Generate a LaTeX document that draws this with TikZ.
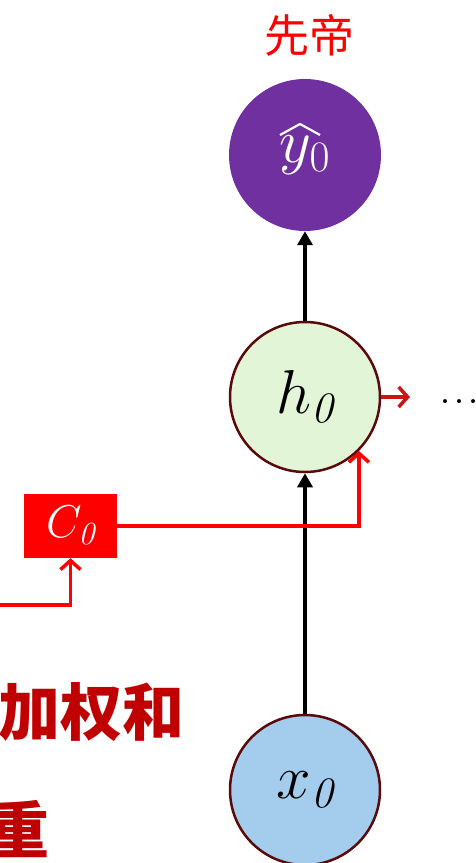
\RequirePackage{fix-cm}
\documentclass[tikz,border=0pt]{standalone}
\usepackage{fontspec}
\newfontfamily\cjk{Noto Sans CJK SC}
\usetikzlibrary{arrows.meta}
\definecolor{ypurple}{HTML}{7030A0}
\definecolor{hgreen}{HTML}{E2F5D6}
\definecolor{xblue}{HTML}{A4CCEC}
\definecolor{rim}{HTML}{5A0A0A}
\definecolor{darkred}{HTML}{C00000}
\definecolor{arrred}{HTML}{CC1414}
\tikzset{
  cell/.style={circle, inner sep=0pt, minimum size=150pt, draw=rim, line width=2.5pt},
  blackarrow/.style={line width=4.5pt, -{Triangle[length=14pt,width=15pt]}},
  redarrow/.style={draw=red, line width=3.5pt, -{Straight Barb[length=9pt,width=20pt,line width=3.5pt]}},
  bigmath/.style={font=\fontsize{62}{70}\selectfont},
}
\begin{document}
\begin{tikzpicture}[x=1pt,y=-1pt]
\useasboundingbox (0,0) rectangle (475,863);
\clip (0,0) rectangle (475,863);
% nodes
\node[circle, inner sep=0pt, minimum size=152pt, fill=ypurple, text=white, font=\fontsize{62}{66}\selectfont] (y) at (305,155) {$y_0$};
\draw[white, line width=2.2pt, line join=round] ([shift={(-25pt,20pt)}]y.center) -- ([shift={(-5pt,31pt)}]y.center) -- ([shift={(15pt,20pt)}]y.center);
\node[cell, fill=hgreen, bigmath] (h) at (305,397) {$h_{\mathit{0}}$};
\node[cell, fill=xblue, bigmath] (x) at (305,790) {$x_{\mathit{0}}$};
\node[text=red, font=\cjk\fontsize{45}{50}\selectfont, inner sep=0pt] (t1) at (309,35) {先帝};
\node[rectangle, fill=red, minimum width=93pt, minimum height=64pt, inner sep=0pt, text=white, font=\fontsize{46}{52}\selectfont] (c) at (70.5,526) {$C_{\mathit{0}}$};
\node[anchor=base west, inner sep=0pt, font=\fontsize{48}{50}\selectfont] (dots) at (439,403) {.\kern2pt.\kern2pt.};
\node[anchor=east, inner sep=0pt, text=darkred, font=\cjk\bfseries\fontsize{62}{70}\selectfont] (w1) at (185,712) {加权和};
\node[anchor=east, inner sep=0pt, text=darkred, font=\cjk\bfseries\fontsize{62}{70}\selectfont] (w2) at (50,829) {重};
\coordinate (hout) at (410,397);
\coordinate (cin) at (-5,605);
% connectors
\draw[blackarrow] (h) -- (y);
\draw[blackarrow] (x) -- (h);
\draw[redarrow, draw=arrred] (h.east) -- (hout);
\draw[redarrow] (c.east) -| (h.south east);
\draw[redarrow] (cin) -| (c.south);
\end{tikzpicture}
\end{document}
